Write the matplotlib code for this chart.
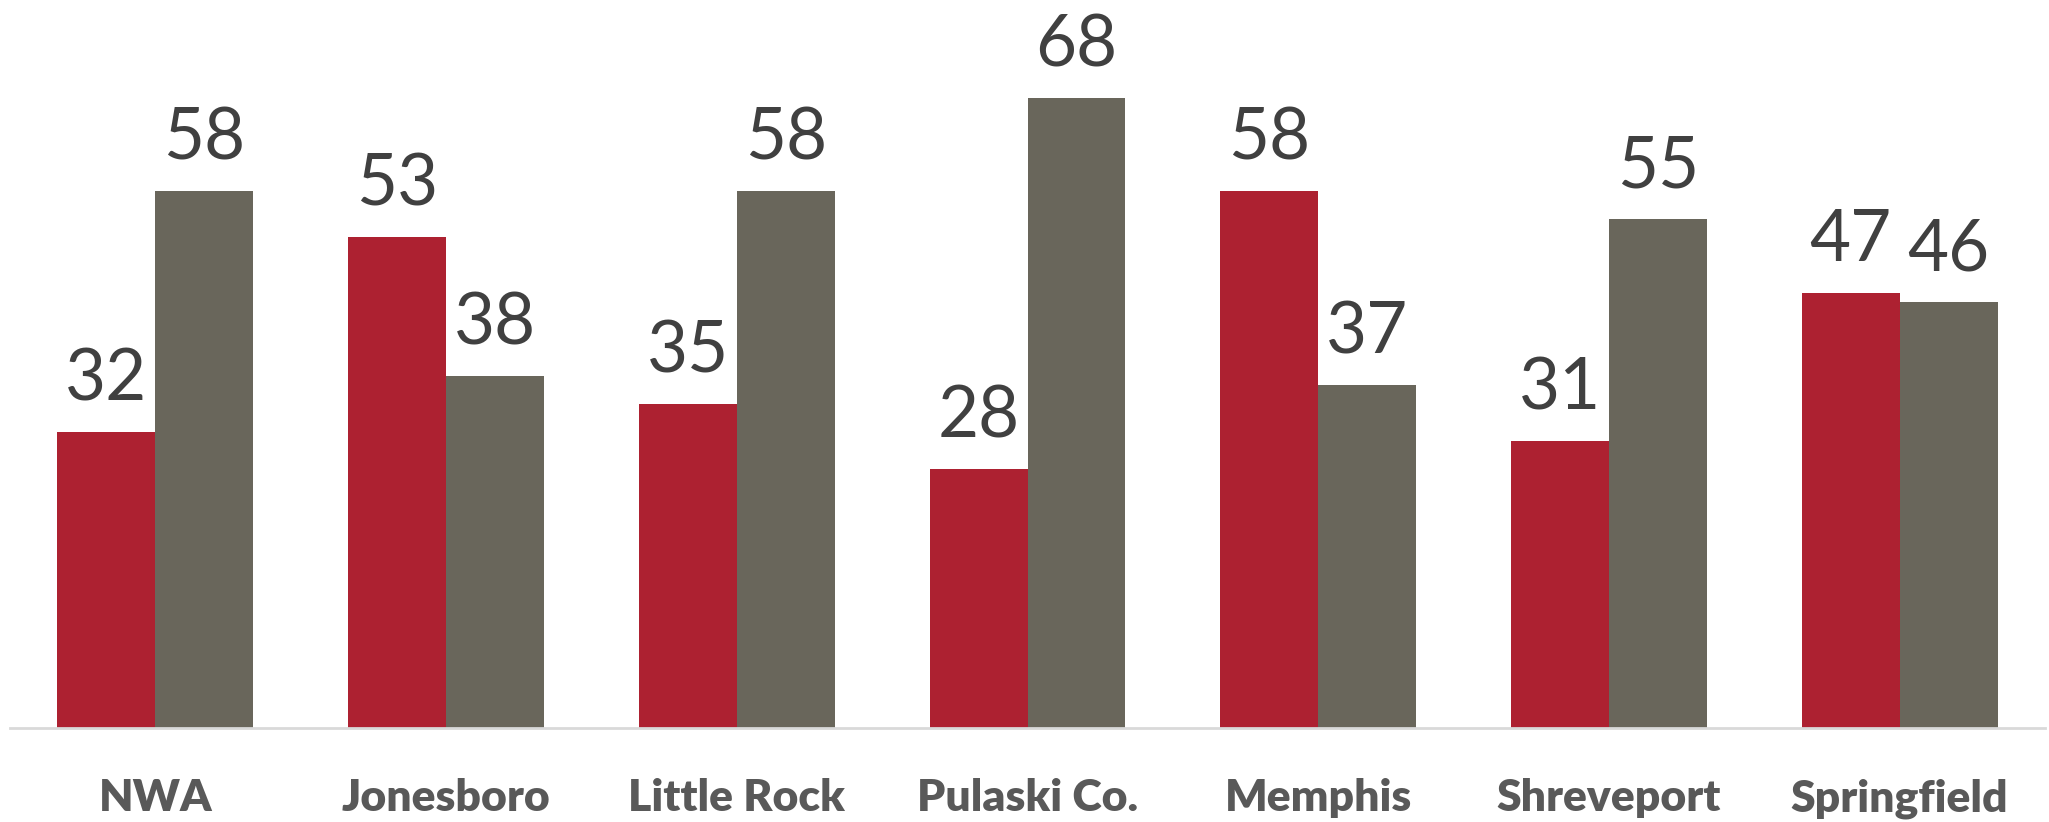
import numpy as np
import matplotlib.pyplot as plt

# Chart data
categories = ["NWA", "Jonesboro", "Little Rock", "Pulaski Co.", "Memphis", "Shreveport", "Springfield"]
series_red = [32, 53, 35, 28, 58, 31, 47]
series_gray = [58, 38, 58, 68, 37, 55, 46]

red = "#AD2131"
gray = "#69665B"
label_color = "#404040"
tick_color = "#595959"

plt.rcParams['font.family'] = ['Lato', 'DejaVu Sans']

fig = plt.figure(figsize=(20.49, 8.22), dpi=100)
ax = fig.add_axes([10 / 2049, 94 / 822, 2035 / 2049, 728 / 822])

x = np.arange(len(categories))
w = 0.337
b1 = ax.bar(x - w / 2, series_red, width=w, color=red, zorder=2)
b2 = ax.bar(x + w / 2, series_gray, width=w, color=gray, zorder=2)

for bars, vals in [(b1, series_red), (b2, series_gray)]:
    for bar, v in zip(bars, vals):
        ax.annotate(str(v), (bar.get_x() + bar.get_width() / 2, v),
                    xytext=(0, 14), textcoords='offset points',
                    ha='center', va='bottom', fontsize=51, color=label_color)

ax.set_xlim(-0.5, 6.5)
ax.set_ylim(0, 78.6)
ax.set_xticks(x)
ax.set_xticklabels(categories, fontsize=32, fontweight='heavy', color=tick_color)
ax.tick_params(axis='x', length=0, pad=36)
ax.set_yticks([])
for s in ['top', 'right', 'left']:
    ax.spines[s].set_visible(False)
ax.spines['bottom'].set_color("#D9D9D9")
ax.spines['bottom'].set_linewidth(2)

fig.savefig("out.png", dpi=100)
